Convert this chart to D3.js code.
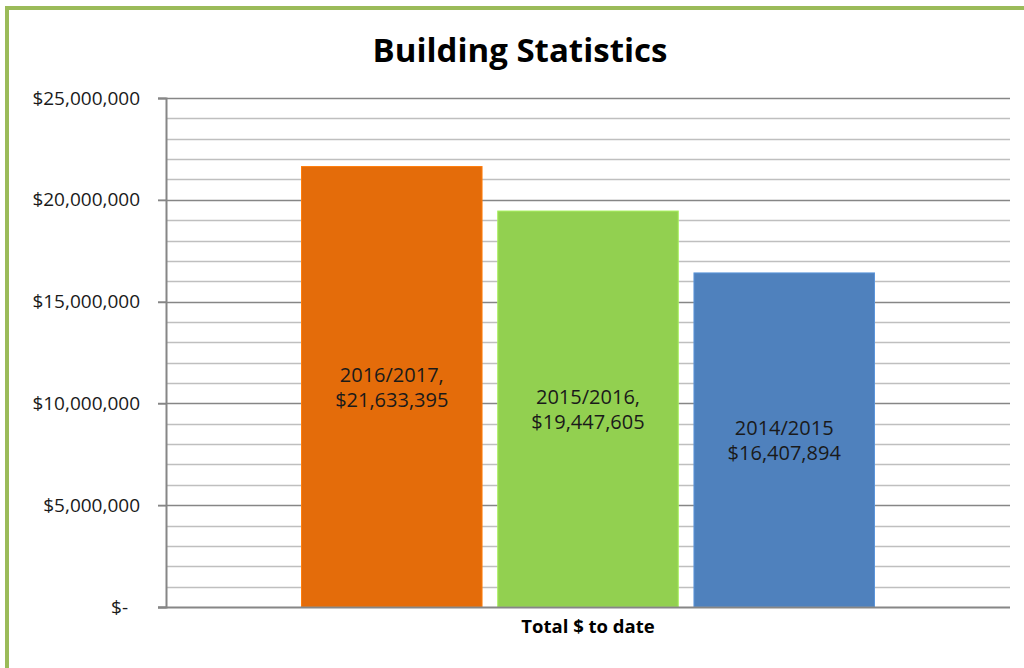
<!DOCTYPE html>
<html><head><meta charset="utf-8">
<script src="https://cdn.jsdelivr.net/npm/d3@7"></script>
<style>body{margin:0;background:#fff;} svg{display:block;}</style>
</head><body>
<svg id="c" width="1024" height="668"></svg>
<script>
const title = "Building Statistics";
const category = "Total $ to date";
const seriesNames = ["2016/2017,", "2015/2016,", "2014/2015"];
const seriesValues = [21633395, 19447605, 16407894];
const seriesLabels = ["$21,633,395", "$19,447,605", "$16,407,894"];
const seriesColors = ["#E46C0A", "#92D050", "#4F81BD"];
const majorTicks = [0, 5000000, 10000000, 15000000, 20000000, 25000000];
const minorTicks = d3.range(0, 25000001, 1000000);

const svg = d3.select("#c");
const font = "'Open Sans', Lato, sans-serif";

// outer border (chart area, cropped at right/bottom)
svg.append("path").attr("d","M7,668 V8 H1024").attr("fill","none")
  .attr("stroke","#9BBB59").attr("stroke-width",4);

const L=166, R=1010, T=98, B=607;
const y = d3.scaleLinear().domain([0,25000000]).range([B,T]);
const x0 = d3.scaleBand().domain([category]).range([L,R]).paddingInner(0).paddingOuter(0.2365);
const x1 = d3.scaleBand().domain(seriesNames).range([0, x0.bandwidth()]).paddingInner(0.08);

// minor gridlines
svg.append("g").selectAll("line").data(minorTicks.filter(v=>v%5000000!==0)).join("line")
  .attr("x1",L).attr("x2",R).attr("y1",d=>Math.round(y(d))+0.5).attr("y2",d=>Math.round(y(d))+0.5)
  .attr("stroke","#BFBFBF").attr("stroke-width",1.3);
// major gridlines
svg.append("g").selectAll("line").data(majorTicks.filter(v=>v>0)).join("line")
  .attr("x1",L-8).attr("x2",R).attr("y1",d=>Math.round(y(d))+0.5).attr("y2",d=>Math.round(y(d))+0.5)
  .attr("stroke","#868686").attr("stroke-width",1.5);

// bars
const g = svg.append("g").attr("transform",`translate(${x0(category)},0)`);
g.selectAll("rect").data(seriesValues).join("rect")
  .attr("x",(d,i)=>x1(seriesNames[i])).attr("width",x1.bandwidth())
  .attr("y",d=>y(d)).attr("height",d=>B-y(d))
  .attr("fill",(d,i)=>seriesColors[i])
  .attr("stroke",(d,i)=>d3.color(seriesColors[i]).brighter(0.4)).attr("stroke-width",1);

// bar labels
seriesValues.forEach((v,i)=>{
  const cx = x0(category)+x1(seriesNames[i])+x1.bandwidth()/2;
  const cy = (y(v)+B)/2;
  const t = svg.append("text").attr("text-anchor","middle").attr("font-family",font)
    .attr("font-size",20).attr("fill","#1a1a1a");
  t.append("tspan").attr("x",cx).attr("y",cy-5).text(seriesNames[i]);
  t.append("tspan").attr("x",cx).attr("y",cy+20).text(seriesLabels[i]);
});

// y axis
const yAxis = d3.axisLeft(y).tickValues(majorTicks).tickSize(8).tickPadding(18)
  .tickFormat(d=> d===0 ? "$-" : "$"+d3.format(",")(d));
const ya = svg.append("g").attr("transform",`translate(${L},0)`).call(yAxis);
ya.select(".domain").attr("stroke","#868686").attr("stroke-width",2);
ya.selectAll(".tick line").attr("stroke","#868686").attr("stroke-width",1.5);
ya.selectAll(".tick text").attr("font-family",font).attr("font-size",19).attr("fill","#1a1a1a")
  .attr("dx",d=>d===0?-12:0);

// x axis baseline
svg.append("line").attr("x1",L-8).attr("x2",R).attr("y1",B+0.5).attr("y2",B+0.5)
  .attr("stroke","#868686").attr("stroke-width",2);

// category label
svg.append("text").attr("x",(L+R)/2).attr("y",633).attr("text-anchor","middle")
  .attr("font-family",font).attr("font-weight","bold").attr("font-size",18.5).attr("fill","#000").text(category);

// title
svg.append("text").attr("x",520).attr("y",62).attr("text-anchor","middle")
  .attr("font-family",font).attr("font-weight","bold").attr("font-size",33).attr("fill","#000").text(title);
</script>
</body></html>
